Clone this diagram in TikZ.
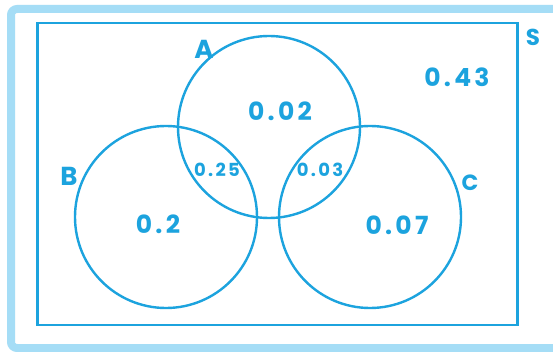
\documentclass[tikz,border=0pt]{standalone}
\usepackage{fontspec}
\setmainfont{Poppins}
\newfontfamily\handfont{Poppins}[LetterSpace=13]
\definecolor{vblue}{HTML}{1CA3DE}
\definecolor{frameblue}{HTML}{A5DDF6}
\begin{document}
\begin{tikzpicture}[x=1pt,y=-1pt,
  venn/.style={draw=vblue,line width=2.4pt,circle,minimum size=182pt,inner sep=0pt},
  lbl/.style={text=vblue,font=\handfont\bfseries\fontsize{25}{25}\selectfont,inner sep=0pt},
  small/.style={text=vblue,font=\handfont\bfseries\fontsize{18}{18}\selectfont,inner sep=0pt},
  setname/.style={text=vblue,font=\handfont\bfseries\fontsize{26}{26}\selectfont,inner sep=0pt}]
\useasboundingbox (0,0) rectangle (553,352);
\fill[white] (0,0) rectangle (553,352);
\draw[frameblue,line width=8pt,rounded corners=6pt] (11,9) rectangle (560,348);
\node[draw=vblue,line width=2.4pt,minimum width=480pt,minimum height=302pt,inner sep=0pt] (S) at (277.5,174) {};
\node[venn] (A) at (269,127) {};
\node[venn] (B) at (166,217) {};
\node[venn] (C) at (370,217) {};
\node[setname] (lA) at (204,49) {A};
\node[setname] (lB) at (69,176) {B};
\node[setname,font=\handfont\bfseries\fontsize{22}{22}\selectfont] (lC) at (470,183) {C};
\node[setname,font=\handfont\bfseries\fontsize{23}{23}\selectfont] (lS) at (533,37) {S};
\node[lbl] (pA) at (280,111) {0.02};
\node[small] (pAB) at (217,170) {0.25};
\node[small] (pAC) at (320,170) {0.03};
\node[lbl] (pB) at (158,224) {0.2};
\node[lbl] (pC) at (397,225) {0.07};
\node[lbl] (pS) at (457,77) {0.43};
\end{tikzpicture}
\end{document}
